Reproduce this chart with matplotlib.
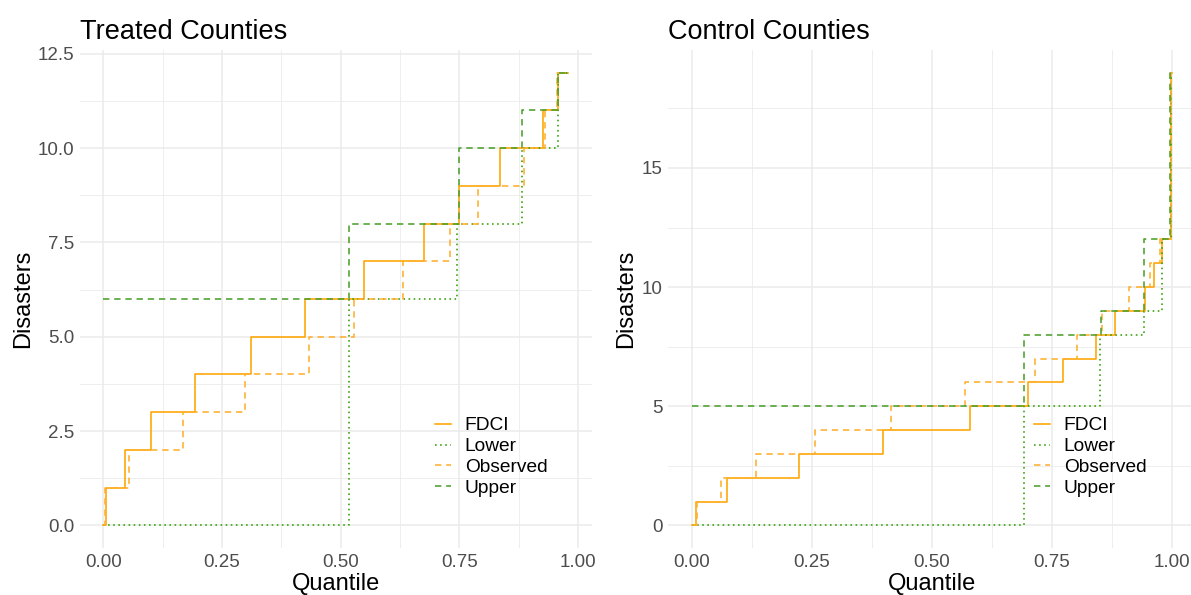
import matplotlib
matplotlib.use('Agg')
from matplotlib import pyplot as plt
from matplotlib.lines import Line2D

plt.rcParams['font.family'] = ['Liberation Sans', 'DejaVu Sans']

# Treated counties: quantile where each step starts, and the value from there on.
left_fdci_q = [0.00, 0.006, 0.046, 0.100, 0.193, 0.311, 0.424, 0.550, 0.675, 0.748, 0.835, 0.925, 0.957, 0.978]
left_fdci_v = [0, 1, 2, 3, 4, 5, 6, 7, 8, 9, 10, 11, 12, 12]
left_obs_q = [0.00, 0.004, 0.055, 0.168, 0.298, 0.433, 0.527, 0.631, 0.731, 0.790, 0.885, 0.930, 0.955, 0.978]
left_obs_v = [0, 1, 2, 3, 4, 5, 6, 7, 8, 9, 10, 11, 12, 12]
left_low_q = [0.00, 0.517, 0.745, 0.882, 0.957, 0.978]
left_low_v = [0, 6, 8, 10, 12, 12]
left_up_q = [0.00, 0.517, 0.748, 0.882, 0.957, 0.978]
left_up_v = [6, 8, 10, 11, 12, 12]

# Control counties
right_fdci_q = [0.00, 0.008, 0.074, 0.224, 0.399, 0.580, 0.700, 0.773, 0.842, 0.882, 0.944, 0.963, 0.980, 0.998, 1.00]
right_fdci_v = [0, 1, 2, 3, 4, 5, 6, 7, 8, 9, 10, 11, 12, 19, 19]
right_obs_q = [0.00, 0.010, 0.061, 0.133, 0.257, 0.415, 0.570, 0.716, 0.803, 0.855, 0.912, 0.955, 0.975, 0.998, 1.00]
right_obs_v = [0, 1, 2, 3, 4, 5, 6, 7, 8, 9, 10, 11, 12, 19, 19]
right_low_q = [0.00, 0.693, 0.851, 0.943, 0.981, 0.998, 1.00]
right_low_v = [0, 5, 8, 9, 12, 19, 19]
right_up_q = [0.00, 0.693, 0.853, 0.943, 0.997, 1.00]
right_up_v = [5, 8, 9, 12, 19, 19]

x_ticks = [0, 0.25, 0.5, 0.75, 1.0]
x_labels = ['0.00', '0.25', '0.50', '0.75', '1.00']
left_y_ticks = [0, 2.5, 5, 7.5, 10, 12.5]
left_y_labels = ['0.0', '2.5', '5.0', '7.5', '10.0', '12.5']
right_y_ticks = [0, 5, 10, 15]
right_y_labels = ['0', '5', '10', '15']

series_names = ['FDCI', 'Lower', 'Observed', 'Upper']
colors = {'FDCI': '#FFA500', 'Lower': '#2E9E00', 'Observed': '#FFB02E', 'Upper': '#4C9F2C'}
styles = {'FDCI': '-', 'Lower': (0, (1, 2.2)), 'Observed': (0, (4, 3)), 'Upper': (0, (4, 3))}

W, H = 1191, 595
fig = plt.figure(figsize=(W / 100, H / 100), dpi=100)


def px_axes(x0, x1, y0, y1):
    return fig.add_axes([x0 / W, 1 - y1 / H, (x1 - x0) / W, (y1 - y0) / H])


def panel(ax, data, xlim, ylim, yticks, ylabels, yminor, title, leg_x):
    for name, (q, v) in zip(series_names, data):
        ax.step(q, v, where='post', color=colors[name], linestyle=styles[name], linewidth=1.15)
    ax.set_xlim(*xlim)
    ax.set_ylim(*ylim)
    ax.set_xticks(x_ticks)
    ax.set_xticklabels(x_labels)
    ax.set_yticks(yticks)
    ax.set_yticklabels(ylabels)
    ax.set_xticks([0.125, 0.375, 0.625, 0.875], minor=True)
    ax.set_yticks(yminor, minor=True)
    ax.grid(True, which='major', color='#EBEBEB', linewidth=1.1)
    ax.grid(True, which='minor', color='#EBEBEB', linewidth=0.6)
    ax.set_axisbelow(True)
    for s in ax.spines.values():
        s.set_visible(False)
    ax.tick_params(which='both', length=0, labelsize=13.5, labelcolor='#4D4D4D', pad=4)
    ax.set_xlabel('Quantile', fontsize=17, labelpad=2)
    ax.set_ylabel('Disasters', fontsize=17, labelpad=3)
    ax.set_title(title, loc='left', fontsize=19.5, pad=8)
    handles = [Line2D([], [], color=colors[n], linestyle=styles[n], linewidth=1.15) for n in series_names]
    ax.legend(handles, series_names, loc='upper left', bbox_to_anchor=(leg_x / W, 1 - 417 / H),
              bbox_transform=fig.transFigure, frameon=False, fontsize=13.8, handlelength=0.85,
              handletextpad=0.7, labelspacing=0.18, borderpad=0, borderaxespad=0)


ax1 = px_axes(80, 592, 50, 548)
panel(ax1, [(left_fdci_q, left_fdci_v), (left_low_q, left_low_v), (left_obs_q, left_obs_v), (left_up_q, left_up_v)],
      (-0.049, 1.029), (-0.6, 12.6), left_y_ticks, left_y_labels, [1.25, 3.75, 6.25, 8.75, 11.25],
      'Treated Counties', 435)

ax2 = px_axes(668, 1195.5, 50, 548)
panel(ax2, [(right_fdci_q, right_fdci_v), (right_low_q, right_low_v), (right_obs_q, right_obs_v), (right_up_q, right_up_v)],
      (-0.05, 1.05), (-0.95, 19.95), right_y_ticks, right_y_labels, [2.5, 7.5, 12.5, 17.5],
      'Control Counties', 1034)

fig.savefig('out.png', dpi=100)
